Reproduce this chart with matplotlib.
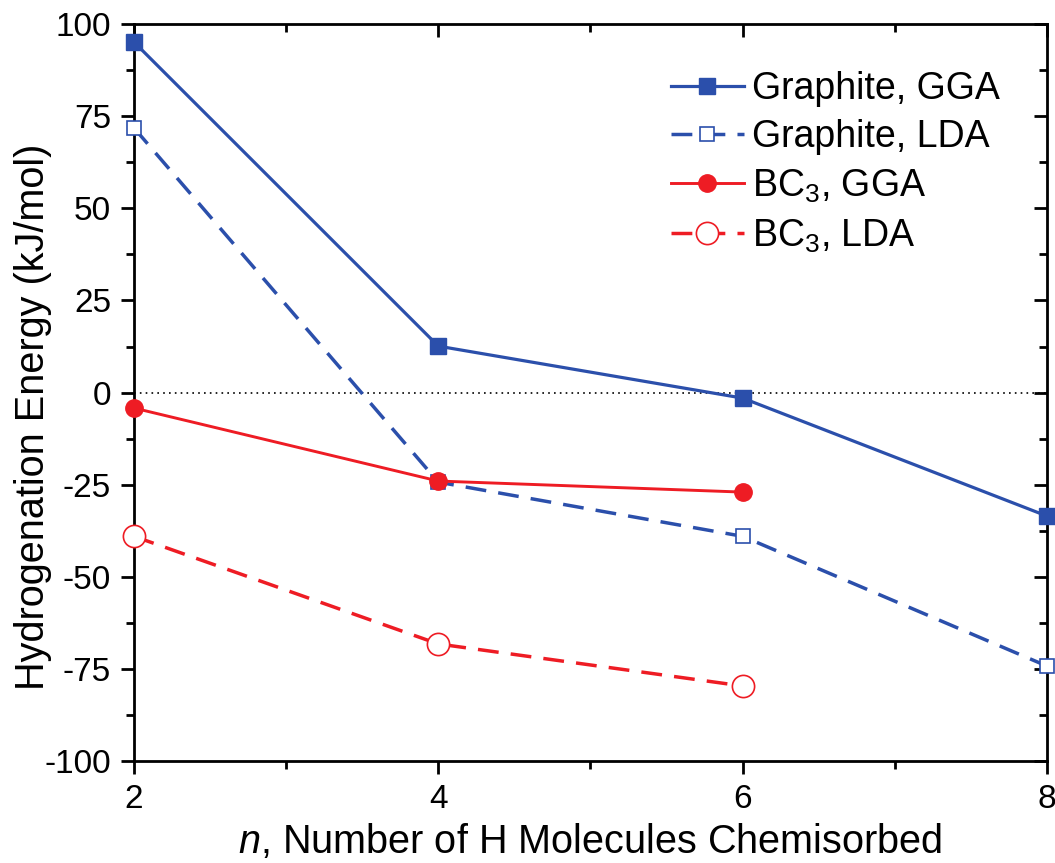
import numpy as np
import matplotlib
matplotlib.use('Agg')
import matplotlib.pyplot as plt
from matplotlib.ticker import MultipleLocator

# =============================================================================
# Data
# =============================================================================
n_graphite = [2, 4, 6, 8]
graphite_gga = [95.1, 12.6, -1.5, -33.5]
graphite_lda = [71.8, -24.3, -39.0, -74.2]

n_bc3 = [2, 4, 6]
bc3_gga = [-4.2, -24.0, -27.0]
bc3_lda = [-39.0, -68.2, -79.6]

# =============================================================================
# Style
# =============================================================================
plt.rcParams['font.family'] = ['Liberation Sans', 'DejaVu Sans']
plt.rcParams['mathtext.fontset'] = 'custom'
plt.rcParams['mathtext.rm'] = 'Liberation Sans'
plt.rcParams['mathtext.it'] = 'Liberation Sans:italic'
plt.rcParams['mathtext.default'] = 'regular'
plt.rcParams['axes.unicode_minus'] = False

BLUE = '#2b4fab'
RED = '#ee1c24'
DASH = (0, (6, 3.5))

fig = plt.figure(figsize=(10.55, 8.63), dpi=100)
ax = fig.add_axes([0.127, 0.118, 0.8654, 0.8542])

ax.axhline(0, color='black', lw=1.2, ls=(0, (1, 2.5)), zorder=1)

ax.plot(n_graphite, graphite_gga, color=BLUE, lw=2.3, marker='s', ms=11,
        mfc=BLUE, mec=BLUE, label='Graphite, GGA', clip_on=False, zorder=3)
ax.plot(n_graphite, graphite_lda, color=BLUE, lw=2.5, ls=DASH, marker='s', ms=10.5,
        mfc='white', mec=BLUE, mew=1.2, label='Graphite, LDA', clip_on=False, zorder=3)
ax.plot(n_bc3, bc3_gga, color=RED, lw=2.1, marker='o', ms=12.5,
        mfc=RED, mec=RED, label='BC$_3$, GGA', clip_on=False, zorder=3)
ax.plot(n_bc3, bc3_lda, color=RED, lw=2.5, ls=DASH, marker='o', ms=16,
        mfc='white', mec=RED, mew=1.2, label='BC$_3$, LDA', clip_on=False, zorder=3)

ax.set_xlim(2, 8)
ax.set_ylim(-100, 100)
ax.xaxis.set_major_locator(MultipleLocator(2))
ax.xaxis.set_minor_locator(MultipleLocator(1))
ax.yaxis.set_major_locator(MultipleLocator(25))
ax.yaxis.set_minor_locator(MultipleLocator(12.5))

for side in ax.spines.values():
    side.set_linewidth(2)

ax.tick_params(which='major', direction='out', length=9.5, width=2, labelsize=24, pad=7)
ax.tick_params(which='minor', direction='out', length=5.5, width=2)

# mirrored ticks pointing inward on top and right
top = ax.secondary_xaxis('top')
top.xaxis.set_major_locator(MultipleLocator(2))
top.xaxis.set_minor_locator(MultipleLocator(1))
top.tick_params(which='major', direction='in', length=9.5, width=2, labeltop=False)
top.tick_params(which='minor', direction='in', length=5.5, width=2)
right = ax.secondary_yaxis('right')
right.yaxis.set_major_locator(MultipleLocator(25))
right.yaxis.set_minor_locator(MultipleLocator(12.5))
right.tick_params(which='major', direction='in', length=9.5, width=2, labelright=False)
right.tick_params(which='minor', direction='in', length=5.5, width=2)

ax.set_xlabel('$\\mathit{n}$, Number of H Molecules Chemisorbed', fontsize=28.5)
ax.xaxis.set_label_coords(0.5, -0.082)
ax.set_ylabel('Hydrogenation Energy (kJ/mol)', fontsize=28.5)
ax.yaxis.set_label_coords(-0.09, 0.467)

ax.legend(loc='upper right', frameon=False, fontsize=27, handlelength=1.95,
          handletextpad=0.22, labelspacing=0.33, borderaxespad=0.85,
          borderpad=0.4)

fig.savefig('out.png', dpi=100)
